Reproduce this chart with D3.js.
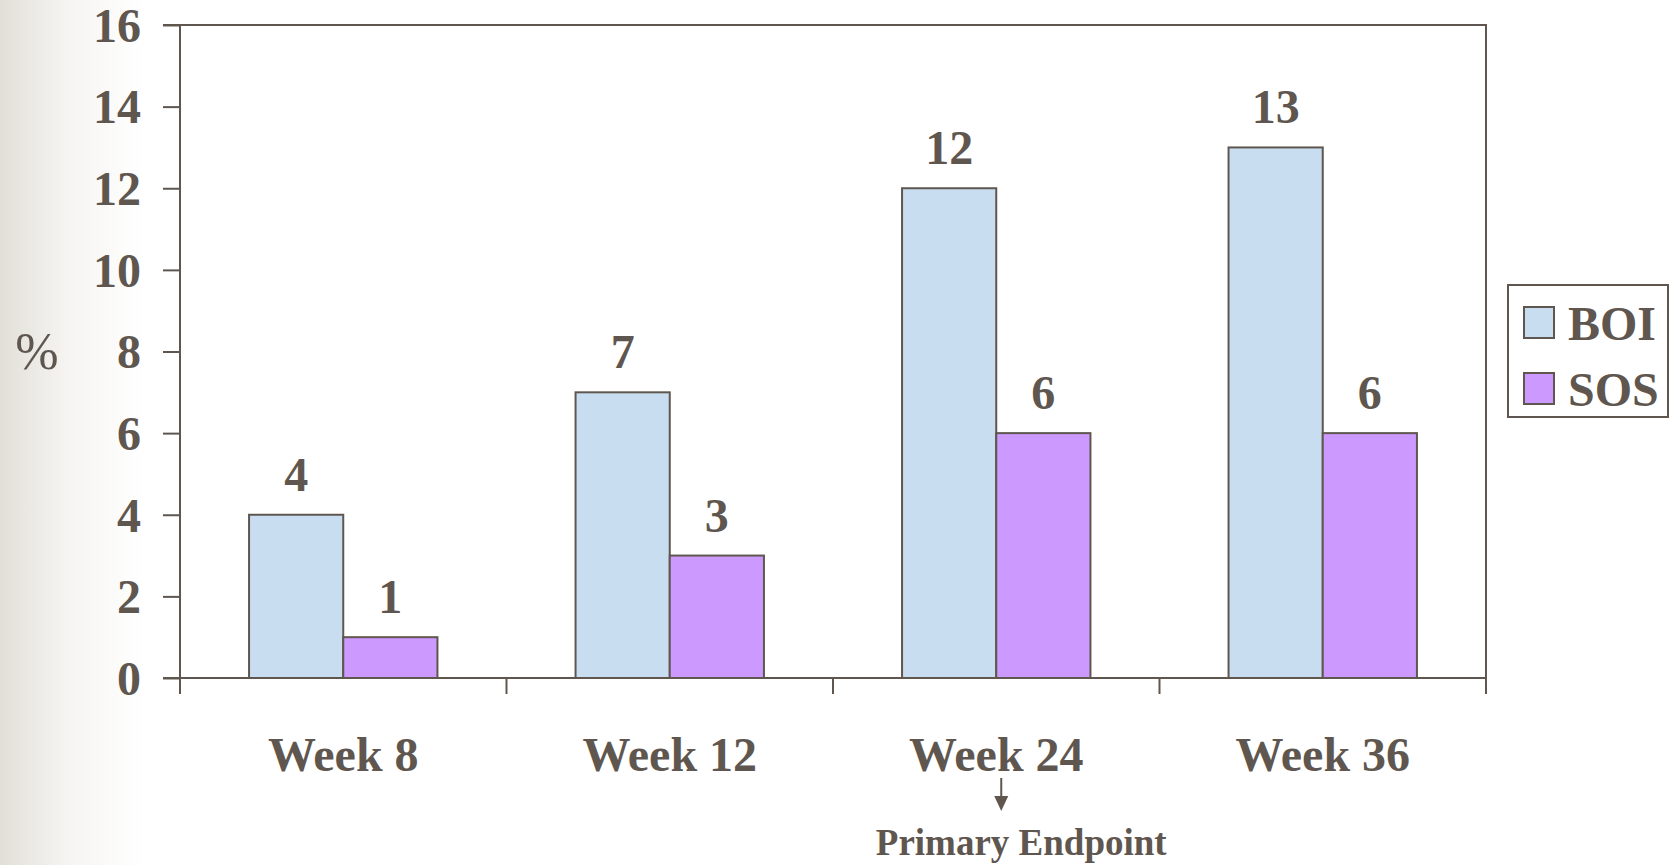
<!DOCTYPE html>
<html>
<head>
<meta charset="utf-8">
<script src="https://cdn.jsdelivr.net/npm/d3@7"></script>
<style>
  html, body { margin: 0; padding: 0; background: #fff; }
  svg { display: block; }
</style>
</head>
<body>
<svg id="chart" width="1675" height="865"></svg>
<script>
// Chart data
const categories = ["Week 8", "Week 12", "Week 24", "Week 36"];
const seriesNames = ["BOI", "SOS"];
const boiValues = [4, 7, 12, 13];
const sosValues = [1, 3, 6, 6];
const yTicks = [0, 2, 4, 6, 8, 10, 12, 14, 16];
const yLabel = "%";
const endpointCategory = "Week 24";
const endpointLabel = "Primary Endpoint";

const ink = "#5f574f";
const fills = { BOI: "#c9ddf0", SOS: "#cc99ff" };
const font = "'Liberation Serif', 'Times New Roman', serif";
const fs = 48;

const svg = d3.select("#chart");
const W = 1675, H = 865;

// Soft grey band fading in from the left edge
const defs = svg.append("defs");
const grad = defs.append("linearGradient").attr("id", "leftFade")
  .attr("x1", 0).attr("x2", 1).attr("y1", 0).attr("y2", 0);
grad.append("stop").attr("offset", "0%").attr("stop-color", "#e2dfd8");
grad.append("stop").attr("offset", "45%").attr("stop-color", "#f5f4f1");
grad.append("stop").attr("offset", "100%").attr("stop-color", "#ffffff");
svg.append("rect").attr("x", 0).attr("y", 0).attr("width", 145).attr("height", H)
  .attr("fill", "url(#leftFade)");

const plot = { left: 180, right: 1486, top: 25, bottom: 678 };

const x = d3.scaleBand().domain(categories).range([plot.left, plot.right]).paddingInner(0).paddingOuter(0);
const inner = d3.scaleBand().domain(seriesNames).range([0, x.bandwidth()]).paddingInner(0).paddingOuter(0.733);
const y = d3.scaleLinear().domain([0, 16]).range([plot.bottom, plot.top]);

const rows = categories.map((c, i) => ({ cat: c, BOI: boiValues[i], SOS: sosValues[i] }));

// Frame: top and right edges of the plot area
svg.append("path")
  .attr("d", `M${plot.left - 17},${plot.top}H${plot.right}V${plot.bottom}`)
  .attr("fill", "none").attr("stroke", ink).attr("stroke-width", 2);

// Bars
const groups = svg.append("g").selectAll("g").data(rows).join("g")
  .attr("transform", d => `translate(${x(d.cat)},0)`);
groups.selectAll("rect").data(d => seriesNames.map(s => ({ s, v: d[s] }))).join("rect")
  .attr("x", d => inner(d.s))
  .attr("width", inner.bandwidth())
  .attr("y", d => y(d.v))
  .attr("height", d => y(0) - y(d.v))
  .attr("fill", d => fills[d.s])
  .attr("stroke", ink).attr("stroke-width", 2);

// Value labels
groups.selectAll("text").data(d => seriesNames.map(s => ({ s, v: d[s] }))).join("text")
  .attr("x", d => inner(d.s) + inner.bandwidth() / 2)
  .attr("y", d => y(d.v) - 24)
  .attr("text-anchor", "middle")
  .attr("font-family", font).attr("font-weight", "bold").attr("font-size", fs)
  .attr("fill", ink)
  .text(d => d.v);

// Y axis
const yAxis = svg.append("g").attr("transform", `translate(${plot.left},0)`)
  .call(d3.axisLeft(y).tickValues(yTicks).tickSize(17).tickPadding(22));
yAxis.select(".domain").attr("d", `M0,${plot.top}V${plot.bottom + 16}`);
yAxis.selectAll("line, path").attr("stroke", ink).attr("stroke-width", 2);
yAxis.selectAll("text")
  .attr("font-family", font).attr("font-weight", "bold").attr("font-size", fs)
  .attr("fill", ink).attr("dy", "0.34em");

// X axis with ticks between categories
const xAxis = svg.append("g").attr("transform", `translate(0,${plot.bottom})`);
xAxis.append("line").attr("x1", plot.left - 17).attr("x2", plot.right)
  .attr("stroke", ink).attr("stroke-width", 2);
const bounds = categories.map(c => x(c)).concat([plot.right]);
xAxis.selectAll("line.sep").data(bounds).join("line").attr("class", "sep")
  .attr("x1", d => d).attr("x2", d => d).attr("y1", 0).attr("y2", 16)
  .attr("stroke", ink).attr("stroke-width", 2);
xAxis.selectAll("text").data(categories).join("text")
  .attr("x", d => x(d) + x.bandwidth() / 2)
  .attr("y", 93)
  .attr("text-anchor", "middle")
  .attr("font-family", font).attr("font-weight", "bold").attr("font-size", fs)
  .attr("fill", ink)
  .text(d => d);

// Y label
svg.append("text").attr("x", 37).attr("y", 369).attr("text-anchor", "middle")
  .attr("font-family", font).attr("font-size", 52).attr("fill", ink).text(yLabel);

// Primary endpoint marker
const ex = x(endpointCategory) + x.bandwidth() / 2 + 5;
svg.append("line").attr("x1", ex).attr("x2", ex).attr("y1", 778).attr("y2", 798)
  .attr("stroke", ink).attr("stroke-width", 2);
svg.append("path").attr("d", `M${ex - 7},796L${ex + 7},796L${ex},811Z`).attr("fill", ink);
svg.append("text").attr("x", ex + 20).attr("y", 855).attr("text-anchor", "middle")
  .attr("font-family", font).attr("font-weight", "bold").attr("font-size", 37)
  .attr("fill", ink).text(endpointLabel);

// Legend
const lg = svg.append("g").attr("transform", "translate(1508,285)");
lg.append("rect").attr("width", 160).attr("height", 132)
  .attr("fill", "#fff").attr("stroke", ink).attr("stroke-width", 2);
const items = lg.selectAll("g").data(seriesNames).join("g")
  .attr("transform", (d, i) => `translate(16,${22 + i * 66})`);
items.append("rect").attr("width", 30).attr("height", 31)
  .attr("fill", d => fills[d]).attr("stroke", ink).attr("stroke-width", 2);
items.append("text").attr("x", 44).attr("y", 33)
  .attr("font-family", font).attr("font-weight", "bold").attr("font-size", fs)
  .attr("fill", ink).text(d => d);
</script>
</body>
</html>
